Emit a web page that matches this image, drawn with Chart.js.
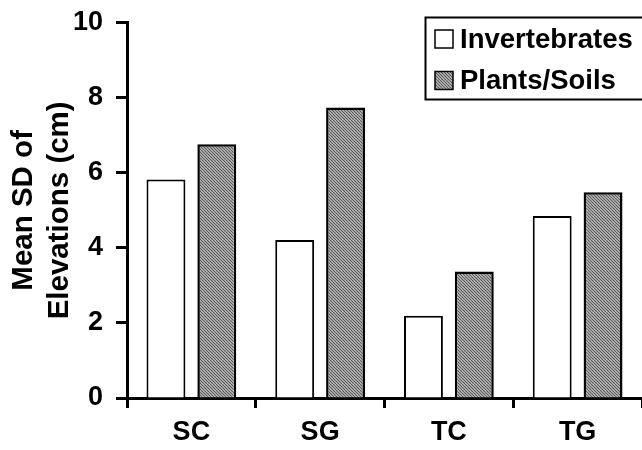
<!DOCTYPE html>
<html>
<head>
<meta charset="utf-8">
<script src="https://cdn.jsdelivr.net/npm/chart.js@4"></script>
<style>
html,body{margin:0;padding:0;background:#fff;}
#wrap{width:642px;height:450px;position:relative;}
</style>
</head>
<body>
<div id="wrap"><canvas id="c" width="642" height="450"></canvas></div>
<script>
const categories = ['SC', 'SG', 'TC', 'TG'];
const invertebrates = [5.82, 4.21, 2.19, 4.85];
const plantsSoils = [6.76, 7.74, 3.37, 5.48];
const seriesNames = ['Invertebrates', 'Plants/Soils'];
const yTicks = [0, 2, 4, 6, 8, 10];
const yTitle = ['Mean SD of', 'Elevations (cm)'];

const FONT = "'Liberation Sans', Arial, Helvetica, sans-serif";

function makePattern() {
  const p = document.createElement('canvas');
  p.width = 6; p.height = 6;
  const g = p.getContext('2d');
  g.fillStyle = '#c4c4c4';
  g.fillRect(0, 0, 6, 6);
  g.strokeStyle = '#5a5a5a';
  g.lineWidth = 1.1;
  for (let k = -6; k <= 12; k += 3) {
    g.beginPath();
    g.moveTo(k, 0);
    g.lineTo(k + 6, 6);
    g.stroke();
  }
  return document.getElementById('c').getContext('2d').createPattern(p, 'repeat');
}
const hatch = makePattern();

const boxedLegend = {
  id: 'boxedLegend',
  afterDraw(chart) {
    const ctx = chart.ctx;
    const left = 425.5, top = 17.5, bottom = 99.5, right = 660;
    ctx.save();
    ctx.fillStyle = '#fff';
    ctx.fillRect(left, top, right - left, bottom - top);
    ctx.strokeStyle = '#000';
    ctx.lineWidth = 2;
    ctx.strokeRect(left, top, right - left, bottom - top);
    const rows = [39, 80.5];
    chart.data.datasets.forEach((ds, i) => {
      const cy = rows[i];
      ctx.fillStyle = ds.backgroundColor;
      ctx.fillRect(435, cy - 9, 18, 18);
      ctx.strokeStyle = '#000';
      ctx.lineWidth = 1.5;
      ctx.strokeRect(435, cy - 9, 18, 18);
      ctx.fillStyle = '#000';
      ctx.font = "bold 27.5px " + FONT;
      ctx.textBaseline = 'middle';
      ctx.textAlign = 'left';
      ctx.fillText(ds.label, 460, cy + 1);
    });
    ctx.restore();
  }
};

new Chart(document.getElementById('c'), {
  type: 'bar',
  data: {
    labels: categories,
    datasets: [
      {
        label: seriesNames[0],
        data: invertebrates,
        backgroundColor: '#ffffff',
        borderColor: '#000',
        borderWidth: 2,
        categoryPercentage: 0.79,
        barPercentage: 0.765
      },
      {
        label: seriesNames[1],
        data: plantsSoils,
        backgroundColor: hatch,
        borderColor: '#000',
        borderWidth: 2.5,
        categoryPercentage: 0.79,
        barPercentage: 0.765
      }
    ]
  },
  options: {
    responsive: false,
    animation: false,
    devicePixelRatio: 1,
    layout: { autoPadding: false, padding: { top: 22.7, right: 0, left: 0, bottom: 0 } },
    plugins: {
      legend: { display: false },
      tooltip: { enabled: false },
      title: { display: false }
    },
    scales: {
      x: {
        grid: {
          drawOnChartArea: false,
          drawTicks: true,
          tickLength: 10,
          tickWidth: 3,
          tickColor: '#000',
          offset: true
        },
        border: { display: true, color: '#000', width: 3 },
        ticks: {
          color: '#000',
          padding: 8,
          font: { family: FONT, size: 27, weight: 'bold' }
        },
        afterFit(scale) { scale.height = 52; }
      },
      y: {
        min: 0,
        max: 10,
        afterBuildTicks(scale) { scale.ticks = yTicks.map(v => ({ value: v })); },
        grid: {
          drawOnChartArea: false,
          drawTicks: true,
          tickLength: 11,
          tickWidth: 3,
          tickColor: '#000'
        },
        border: { display: true, color: '#000', width: 3 },
        ticks: {
          color: '#000',
          padding: 13,
          font: { family: FONT, size: 27, weight: 'bold', lineHeight: 0.6 }
        },
        title: {
          display: true,
          text: yTitle,
          color: '#000',
          padding: { top: 6, bottom: 0 },
          font: { family: FONT, size: 29.5, weight: 'bold', lineHeight: 1.22 }
        },
        afterFit(scale) { scale.width = 127; }
      }
    }
  },
  plugins: [boxedLegend]
});
</script>
</body>
</html>
